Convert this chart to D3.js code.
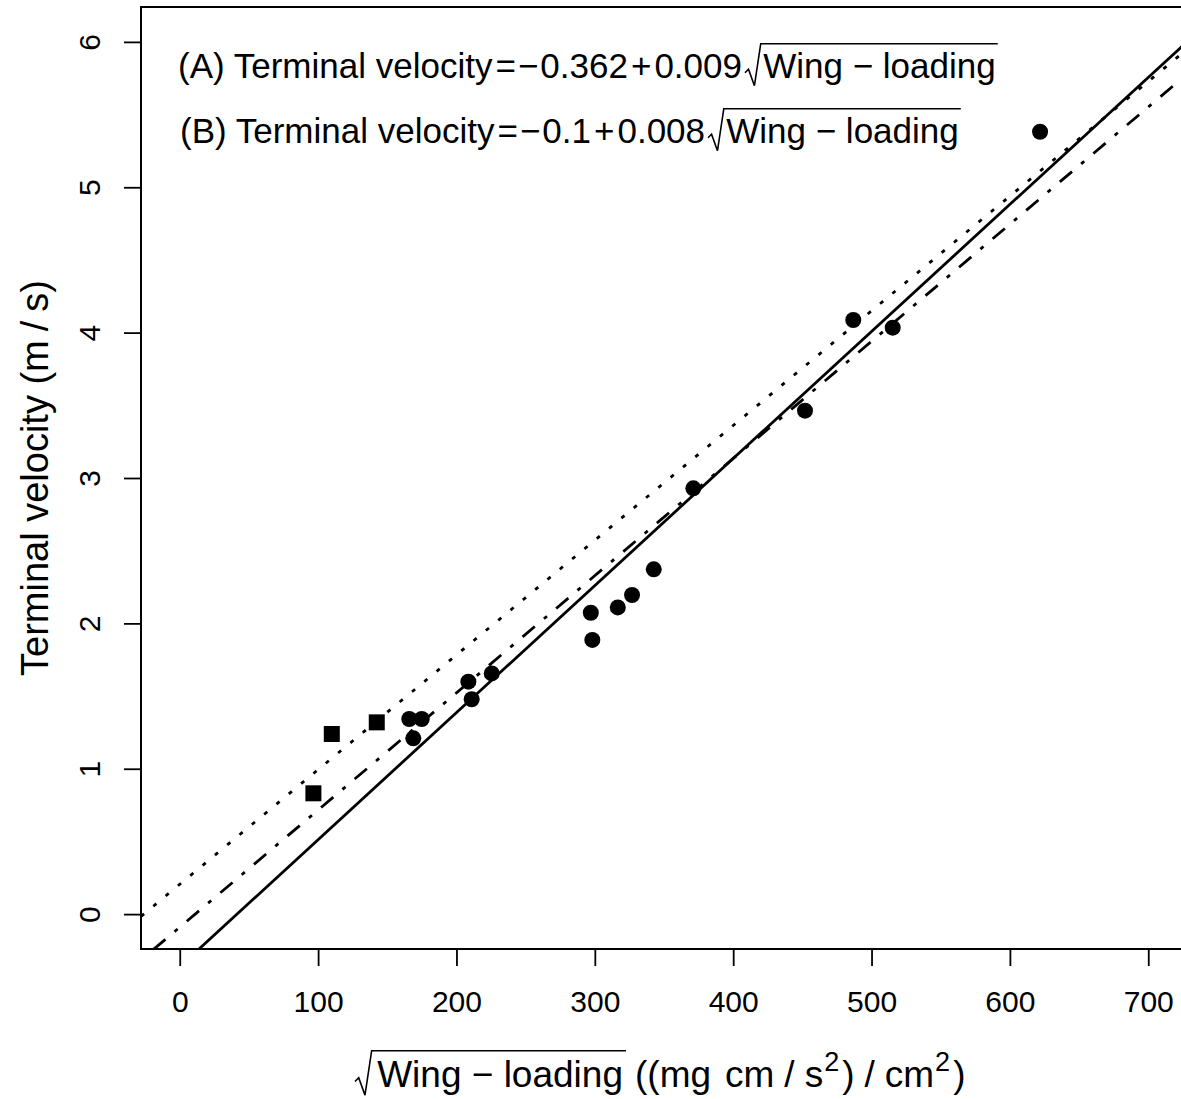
<!DOCTYPE html>
<html>
<head>
<meta charset="utf-8">
<title>Terminal velocity vs wing-loading</title>
<script src="https://cdn.jsdelivr.net/npm/d3@7"></script>
<style>

html, body {
  margin: 0;
  padding: 0;
  background: #fff;
}

svg {
  display: block;
  font-family: Arial, "Liberation Sans", sans-serif;
}

</style>
</head>
<body>
<script>

// tick values
var xTickValues = [0, 100, 200, 300, 400, 500, 600, 700];
var yTickValues = [0, 1, 2, 3, 4, 5, 6];

// filled circles
var circleX = [165.9, 174.9, 168.8, 208.6, 211.0, 225.5, 297.1, 298.2, 316.6, 326.9, 342.6, 371.2, 451.9, 486.8, 515.3, 621.8];
var circleY = [1.342, 1.342, 1.209, 1.599, 1.478, 1.656, 2.073, 1.886, 2.110, 2.195, 2.372, 2.929, 3.463, 4.087, 4.034, 5.382];

// filled squares
var squareX = [96.6, 109.9, 142.4];
var squareY = [0.831, 1.239, 1.319];

// fitted lines (solid, dot-dash, dotted)
var fitIntercepts = [-0.362, -0.09, 0.205];
var fitSlopes = [0.00874, 0.00806, 0.00789];

// equation texts
var eqLabels = ["(A)", "(B)"];
var eqIntercepts = ["0.362", "0.1"];
var eqSlopes = ["0.009", "0.008"];

var width = 1181, height = 1099;
var plotLeft = 141, plotTop = 7, plotRight = 1187, plotBottom = 949;

var x = d3.scaleLinear().domain([-28, 728]).range([plotLeft, plotRight]);
var y = d3.scaleLinear().domain([-0.24, 6.24]).range([plotBottom, plotTop]);

var svg = d3.select("body").append("svg")
    .attr("width", width)
    .attr("height", height);

svg.append("clipPath").attr("id", "plot")
  .append("rect")
    .attr("x", plotLeft).attr("y", plotTop)
    .attr("width", plotRight - plotLeft).attr("height", plotBottom - plotTop);

// axes
var xAxis = svg.append("g")
    .attr("transform", "translate(0," + plotBottom + ")")
    .call(d3.axisBottom(x).tickValues(xTickValues).tickFormat(d3.format("d"))
      .tickSize(17).tickSizeOuter(0));
xAxis.select(".domain").remove();
xAxis.attr("font-size", 30).attr("font-family", null);
xAxis.selectAll("line").attr("stroke", "#000").attr("stroke-width", 1.8);
xAxis.selectAll("text").attr("y", 63).attr("dy", null).attr("fill", "#000");

var yAxis = svg.append("g")
    .attr("transform", "translate(" + plotLeft + ",0)")
    .call(d3.axisLeft(y).tickValues(yTickValues).tickFormat(d3.format("d"))
      .tickSize(17).tickSizeOuter(0));
yAxis.select(".domain").remove();
yAxis.attr("font-size", 30).attr("font-family", null);
yAxis.selectAll("line").attr("stroke", "#000").attr("stroke-width", 1.8);
yAxis.selectAll("text")
    .attr("x", null).attr("dy", null)
    .attr("text-anchor", "middle")
    .attr("fill", "#000")
    .attr("transform", "translate(-41,0) rotate(-90)");

// fitted lines
var dashes = [null, "4,12,16,12", "4,12"];
var lineGen = d3.line()
    .x(function(d) { return x(d[0]); })
    .y(function(d) { return y(d[1]); });

svg.append("g")
    .attr("clip-path", "url(#plot)")
  .selectAll("path")
    .data(d3.range(fitIntercepts.length))
  .enter().append("path")
    .attr("d", function(i) {
      var xs = x.domain();
      return lineGen(xs.map(function(v) { return [v, fitIntercepts[i] + fitSlopes[i] * v]; }));
    })
    .attr("fill", "none")
    .attr("stroke", "#000")
    .attr("stroke-width", 2.8)
    .attr("stroke-dasharray", function(i) { return dashes[i]; });

// points
svg.append("g").selectAll("circle")
    .data(d3.range(circleX.length))
  .enter().append("circle")
    .attr("cx", function(i) { return x(circleX[i]); })
    .attr("cy", function(i) { return y(circleY[i]); })
    .attr("r", 8)
    .attr("fill", "#000");

svg.append("g").selectAll("rect")
    .data(d3.range(squareX.length))
  .enter().append("rect")
    .attr("x", function(i) { return x(squareX[i]) - 8; })
    .attr("y", function(i) { return y(squareY[i]) - 8; })
    .attr("width", 16)
    .attr("height", 16)
    .attr("fill", "#000");

// frame
svg.append("rect")
    .attr("x", plotLeft).attr("y", plotTop)
    .attr("width", plotRight - plotLeft).attr("height", plotBottom - plotTop)
    .attr("fill", "none")
    .attr("stroke", "#000")
    .attr("stroke-width", 2);

// square root sign with overline
function radical(g, x0, base, fs, endX) {
  var topY = base - fs * 0.98;
  g.append("path")
      .attr("d", "M" + x0 + "," + (base - fs * 0.15) +
                 "L" + (x0 + fs * 0.1) + "," + (base - fs * 0.25) +
                 "L" + (x0 + fs * 0.27) + "," + (base + fs * 0.22) +
                 "L" + (x0 + fs * 0.45) + "," + topY +
                 "H" + endX)
      .attr("fill", "none")
      .attr("stroke", "#000")
      .attr("stroke-width", 1.6);
}

// equations
var eqX = [178, 180], eqBase = [78, 143], eqSize = 35;
eqLabels.forEach(function(label, i) {
  var g = svg.append("g");
  var t = g.append("text")
      .attr("x", eqX[i]).attr("y", eqBase[i])
      .attr("font-size", eqSize);
  var tokens = [label + " Terminal velocity", "=", "\u2212", eqIntercepts[i], "+", eqSlopes[i]];
  var gaps = [0, 3, 2, 2, 3, 3];
  tokens.forEach(function(s, j) { t.append("tspan").attr("dx", gaps[j]).text(s); });
  var rx = eqX[i] + t.node().getComputedTextLength() + 16;
  var r = g.append("text")
      .attr("x", rx + eqSize * 0.52).attr("y", eqBase[i])
      .attr("font-size", eqSize)
      .text("Wing \u2212 loading");
  var end = rx + eqSize * 0.52 + r.node().getComputedTextLength() + 2;
  radical(g, rx, eqBase[i], eqSize, end);
});

// x title
var xt = svg.append("g"), xfs = 37, xBase = 1087, xStart = 355;
var xr = xt.append("text")
    .attr("x", xStart + xfs * 0.6).attr("y", xBase)
    .attr("font-size", xfs)
    .text("Wing \u2212 loading");
var xrEnd = xStart + xfs * 0.6 + xr.node().getComputedTextLength() + 3;
radical(xt, xStart, xBase, xfs, xrEnd);
var xu = xt.append("text")
    .attr("x", xrEnd + 9).attr("y", xBase)
    .attr("font-size", xfs);
xu.append("tspan").text("((mg");
xu.append("tspan").attr("dx", 14).text("cm");
xu.append("tspan").attr("dx", 10).text("/");
xu.append("tspan").attr("dx", 10).text("s");
xu.append("tspan").attr("font-size", 27).attr("dy", -16).attr("dx", 1).text("2");
xu.append("tspan").attr("dy", 16).attr("dx", 3).text(")");
xu.append("tspan").attr("dx", 10).text("/");
xu.append("tspan").attr("dx", 10).text("cm");
xu.append("tspan").attr("font-size", 27).attr("dy", -16).attr("dx", 1).text("2");
xu.append("tspan").attr("dy", 16).attr("dx", 3).text(")");

// y title
var yt = svg.append("text")
    .attr("transform", "translate(48," + ((plotTop + plotBottom) / 2) + ") rotate(-90)")
    .attr("text-anchor", "middle")
    .attr("font-size", 38);
yt.append("tspan").text("Terminal velocity (m");
yt.append("tspan").attr("dx", 9).text("/");
yt.append("tspan").attr("dx", 9).text("s)");

</script>
</body>
</html>
